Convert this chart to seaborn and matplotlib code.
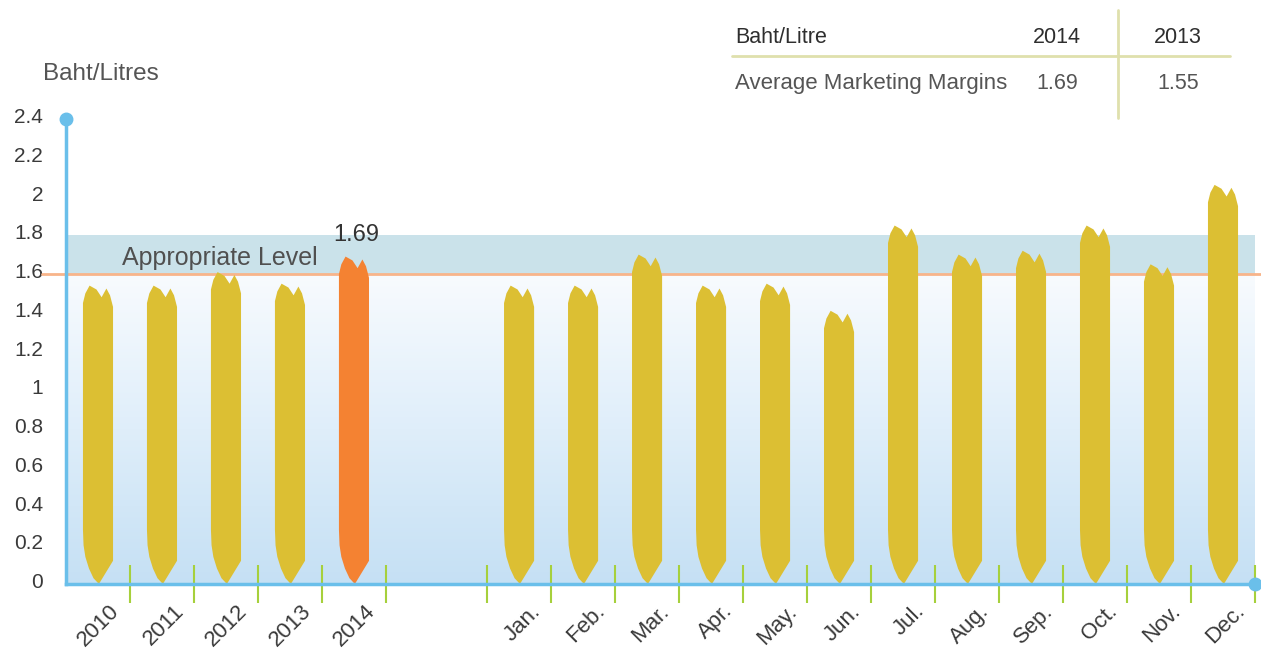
import numpy as np
import pandas as pd
import matplotlib
matplotlib.use("Agg")
import matplotlib.pyplot as plt
from matplotlib.patches import Polygon
from matplotlib.lines import Line2D
from matplotlib.colors import LinearSegmentedColormap
from matplotlib.transforms import ScaledTranslation
import seaborn as sns

# data (Baht/Litre)
years = ["2010", "2011", "2012", "2013", "2014"]
year_margins = [1.54, 1.54, 1.61, 1.55, 1.69]
months = ["Jan.", "Feb.", "Mar.", "Apr.", "May.", "Jun.",
          "Jul.", "Aug.", "Sep.", "Oct.", "Nov.", "Dec."]
month_margins = [1.54, 1.54, 1.70, 1.54, 1.55, 1.41,
                 1.85, 1.70, 1.72, 1.85, 1.65, 2.06]
appropriate_level = 1.6
band_top = 1.8
y_ticks = [0, 0.2, 0.4, 0.6, 0.8, 1, 1.2, 1.4, 1.6, 1.8, 2, 2.2, 2.4]

table_header = ["Baht/Litre", "2014", "2013"]
table_row = ["Average Marketing Margins", "1.69", "1.55"]

# colours
yellow = "#dcbf33"
orange = "#f48232"
blue = "#6abfea"
green = "#a6d03c"

# layout: years first, then a gap, then the months of 2014
year_pos = np.arange(len(years)) + 0.5
month_pos = np.arange(len(months)) + 7.08
x_max = month_pos[-1] + 0.5

df = pd.DataFrame({
    "label": years + months,
    "margin": year_margins + month_margins,
    "pos": np.r_[year_pos, month_pos],
})
palette = {lab: yellow for lab in df["label"]}
palette[years[-1]] = orange

sns.set_theme(style="white")
plt.rcParams["font.family"] = ["Liberation Sans", "DejaVu Sans"]

W, H = 1261, 649
fig = plt.figure(figsize=(W / 100, H / 100), dpi=100)
ax = fig.add_axes([66 / W, 65 / H, 1189 / W, 465 / H])

# sky-like background below the appropriate level, darker band above it
sky = LinearSegmentedColormap.from_list("sky", ["#c5e0f4", "#dfeefa", "#f8fbfe"])
grad = np.linspace(0, 1, 256).reshape(-1, 1)
ax.imshow(grad, extent=(0, x_max, 0, appropriate_level), origin="lower",
          aspect="auto", cmap=sky, zorder=0)
ax.fill_between([0, x_max], appropriate_level, band_top, color="#cae2ea",
                lw=0, zorder=0.5)
ax.axhline(appropriate_level, xmin=-0.02, xmax=1.005, color="#f8b48a", lw=2,
           zorder=1, clip_on=False)

sns.barplot(data=df, x="pos", y="margin", hue="label", palette=palette,
            native_scale=True, width=0.47, legend=False, saturation=1,
            edgecolor="none", zorder=2, ax=ax)

# turn the plain bars into brush strokes: ragged top, pointed bottom
for bar in list(ax.patches):
    x0, w, h = bar.get_x(), bar.get_width(), bar.get_height()
    cx = x0 + w / 2
    pts = [
        (x0, h - 0.09), (x0 + 0.08 * w, h - 0.04), (x0 + 0.22 * w, h),
        (x0 + 0.45 * w, h - 0.02), (x0 + 0.62 * w, h - 0.06),
        (x0 + 0.78 * w, h - 0.015), (x0 + 0.9 * w, h - 0.05),
        (x0 + w, h - 0.11),
        (x0 + w, 0.12), (cx + 0.03 * w, 0.0),
        (x0 + 0.35 * w, 0.03), (x0 + 0.2 * w, 0.08),
        (x0 + 0.08 * w, 0.14), (x0 + 0.02 * w, 0.2), (x0, 0.28),
    ]
    ax.add_patch(Polygon(pts, closed=True, facecolor=bar.get_facecolor(),
                         edgecolor="none", zorder=2))
    bar.set_visible(False)

ax.set_xlim(0, x_max)
ax.set_ylim(0, 2.4)

# axes
for side in ["top", "right"]:
    ax.spines[side].set_visible(False)
for side in ["left", "bottom"]:
    ax.spines[side].set_color(blue)
    ax.spines[side].set_linewidth(2.5)
    ax.spines[side].set_zorder(3)
ax.plot([0], [1], "o", color=blue, ms=9, transform=ax.transAxes, clip_on=False, zorder=4)
ax.plot([1], [0], "o", color=blue, ms=9, transform=ax.transAxes, clip_on=False, zorder=4)

ax.set_yticks(y_ticks, [f"{v:g}" for v in y_ticks])
ax.tick_params(axis="y", length=0, pad=16.5, labelsize=15, labelcolor="#3a3a3a")
up = ScaledTranslation(0, 2.5 / 72, fig.dpi_scale_trans)
for lab in ax.get_yticklabels():
    lab.set_transform(lab.get_transform() + up)

ax.set_xticks(df["pos"], df["label"])
ax.tick_params(axis="x", which="major", length=0, pad=12, labelsize=16,
               labelcolor="#3a3a3a")
shift = ScaledTranslation(8 / 72, 0, fig.dpi_scale_trans)
for lab in ax.get_xticklabels():
    lab.set_rotation(45)
    lab.set_ha("right")
    lab.set_va("top")
    lab.set_rotation_mode("anchor")
    lab.set_transform(lab.get_transform() + shift)

separators = np.r_[year_pos + 0.5, month_pos - 0.5, x_max]
ax.set_xticks(separators, minor=True)
ax.tick_params(axis="x", which="minor", length=27, width=1.5, color=green,
               direction="inout", bottom=True)
ax.set_xlabel("")
ax.set_ylabel("")

# annotations
ax.text(0.875, 1.645, "Appropriate Level", fontsize=18, color="#505050",
        va="baseline", zorder=3)
ax.text(year_pos[-1] + 0.03, 1.77, f"{year_margins[-1]:.2f}", fontsize=17,
        color="#333333", ha="center", va="baseline", zorder=3)
fig.text(43 / W, 1 - 80 / H, "Baht/Litres", fontsize=17.5, color="#555555",
         va="baseline")

# small table top right
col_x = [735, 1057, 1178]
fig.text(col_x[0] / W, 1 - 43 / H, table_header[0], fontsize=15.5,
         color="#2e2e2e", va="baseline")
for cx, t in zip(col_x[1:], table_header[1:]):
    fig.text(cx / W, 1 - 43 / H, t, fontsize=15.5, color="#2e2e2e",
             ha="center", va="baseline")
fig.text(col_x[0] / W, 1 - 89 / H, table_row[0], fontsize=16,
         color="#555555", va="baseline")
for cx, t in zip(col_x[1:], table_row[1:]):
    fig.text(cx / W, 1 - 89 / H, t, fontsize=15.5, color="#555555",
             ha="center", va="baseline")
fig.add_artist(Line2D([732 / W, 1230 / W], [1 - 56 / H, 1 - 56 / H],
                      color="#dfe0ad", lw=2))
fig.add_artist(Line2D([1118 / W, 1118 / W], [1 - 10 / H, 1 - 118 / H],
                      color="#dfe0ad", lw=2))

fig.savefig("out.png", dpi=100)
